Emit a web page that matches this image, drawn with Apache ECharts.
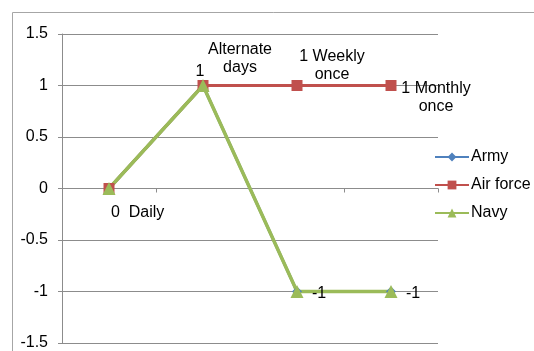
<!DOCTYPE html>
<html>
<head>
<meta charset="utf-8">
<script src="https://cdn.jsdelivr.net/npm/echarts@6/dist/echarts.min.js"></script>
<style>
  html, body { margin: 0; padding: 0; background: #fff; }
  #chart { width: 534px; height: 351px; }
</style>
</head>
<body>
<div id="chart"></div>
<script>
// Training frequency per service branch
const categories = ['Daily', 'Alternate\ndays', 'Weekly\nonce', 'Monthly\nonce'];
const army = [0, 1, -1, -1];
const airForce = [0, 1, 1, 1];
const navy = [0, 1, -1, -1];
const yTicks = { min: -1.5, max: 1.5, step: 0.5 };

const FONT = '"Liberation Sans", Arial, sans-serif';
const baseLabel = { show: true, position: 'inside', color: '#000', fontFamily: FONT, fontSize: 16, lineHeight: 18 };

// Air force labels: value plus category text
const airLabels = [
  { align: 'left', offset: [2, 24], formatter: p => p.value + '  ' + categories[p.dataIndex] },
  { offset: [37, -27], formatter: p => categories[p.dataIndex] },
  { offset: [35, -20], formatter: p => { const c = categories[p.dataIndex].split('\n'); return p.value + ' ' + c[0] + '\n' + c[1]; } },
  { offset: [45, 12], formatter: p => { const c = categories[p.dataIndex].split('\n'); return p.value + ' ' + c[0] + '\n' + c[1]; } }
];
// Army labels: bare value where it is shown
const armyLabels = [
  null,
  { offset: [-3, -14], formatter: p => String(p.value) },
  { offset: [22, 2], formatter: p => String(p.value) },
  { offset: [22, 2], formatter: p => String(p.value) }
];

const chart = echarts.init(document.getElementById('chart'), null, { renderer: 'canvas' });
chart.setOption({
  animation: false,
  backgroundColor: '#fff',
  textStyle: { fontFamily: FONT },
  graphic: [{
    type: 'rect', left: 10, top: 10, silent: true, z: -10,
    shape: { x: 0.5, y: 0.5, width: 600, height: 400 },
    style: { fill: 'none', stroke: '#a6a6a6', lineWidth: 1 }
  }],
  grid: { left: 62, right: 96, top: 34, bottom: 7, containLabel: false },
  legend: {
    orient: 'vertical', left: 429, top: 144, itemWidth: 34, itemHeight: 11, itemGap: 12,
    textStyle: { fontSize: 16, color: '#000', fontFamily: FONT, padding: [0, 0, 0, -3] },
    data: ['Army', 'Air force', 'Navy']
  },
  xAxis: {
    type: 'category', data: categories, boundaryGap: true,
    axisLine: { onZero: true, lineStyle: { color: '#8c8c8c', width: 1 } },
    axisTick: { show: true, length: 4, lineStyle: { color: '#8c8c8c' } },
    axisLabel: { show: false },
    splitLine: { show: false }
  },
  yAxis: {
    type: 'value', min: yTicks.min, max: yTicks.max, interval: yTicks.step,
    axisLine: { show: true, lineStyle: { color: '#8c8c8c', width: 1 } },
    axisTick: { show: true, length: 4, lineStyle: { color: '#8c8c8c' } },
    axisLabel: { color: '#000', fontSize: 16, fontFamily: FONT, margin: 14 },
    splitLine: { show: true, lineStyle: { color: '#8c8c8c', width: 1 } }
  },
  series: [
    {
      name: 'Army', type: 'line', symbol: 'diamond', symbolSize: 10,
      color: '#4F81BD', lineStyle: { width: 3, color: '#4F81BD' },
      itemStyle: { color: '#4F81BD' },
      data: army.map((v, i) => ({ value: v, label: armyLabels[i] ? Object.assign({}, baseLabel, armyLabels[i]) : { show: false } }))
    },
    {
      name: 'Air force', type: 'line', symbol: 'rect', symbolSize: 11,
      color: '#C0504D', lineStyle: { width: 3, color: '#C0504D' },
      itemStyle: { color: '#C0504D' },
      data: airForce.map((v, i) => ({ value: v, label: Object.assign({}, baseLabel, airLabels[i]) }))
    },
    {
      name: 'Navy', type: 'line', symbol: 'triangle', symbolSize: 13,
      color: '#9BBB59', lineStyle: { width: 3.5, color: '#9BBB59' },
      itemStyle: { color: '#9BBB59' },
      data: navy
    }
  ]
});
</script>
</body>
</html>
